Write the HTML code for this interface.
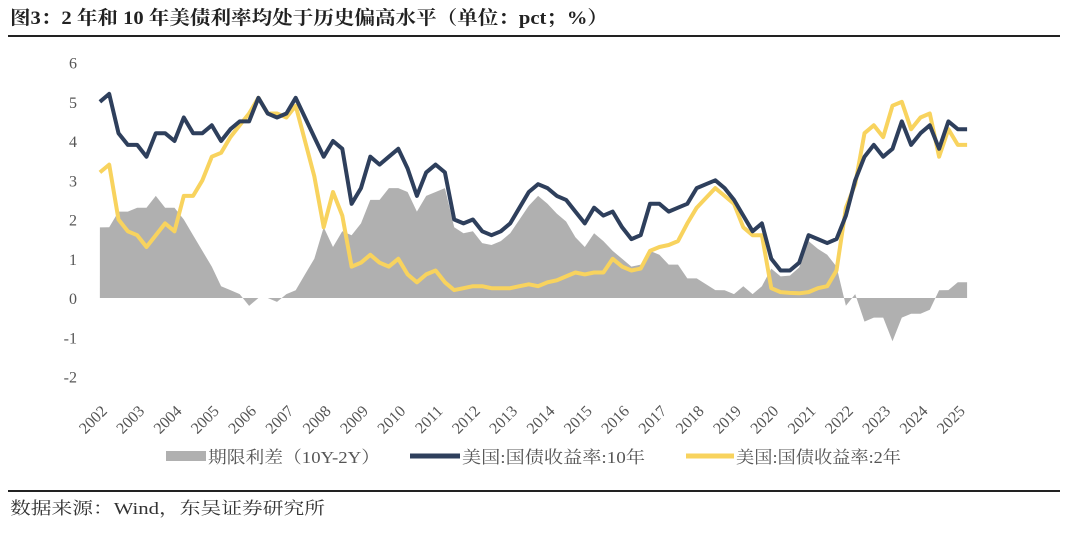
<!DOCTYPE html>
<html><head><meta charset="utf-8"><style>
body{margin:0;width:1080px;height:528px;background:#fff;overflow:hidden;font-family:"Liberation Serif","Noto Serif CJK SC",serif}
</style></head><body>
<svg width="1080" height="528" xmlns="http://www.w3.org/2000/svg">
<text x="10" y="24" font-size="19" font-weight="bold" fill="#222" textLength="598" lengthAdjust="spacingAndGlyphs">图3：2 年和 10 年美债利率均处于历史偏高水平（单位：pct；%）</text>
<line x1="8" y1="36" x2="1060" y2="36" stroke="#222" stroke-width="2"/>
<g id="plot"></g>
<g>
<rect x="166" y="451" width="40" height="10" fill="#b0b0b0"/>
<text x="208" y="463" font-size="17" fill="#555" textLength="172" lengthAdjust="spacingAndGlyphs">期限利差（10Y-2Y）</text>
<line x1="410" y1="456" x2="460" y2="456" stroke="#2e3f5c" stroke-width="5"/>
<text x="462" y="463" font-size="17" fill="#555" textLength="183" lengthAdjust="spacingAndGlyphs">美国:国债收益率:10年</text>
<line x1="686" y1="456" x2="734" y2="456" stroke="#f8d35e" stroke-width="5"/>
<text x="736" y="463" font-size="17" fill="#555" textLength="165" lengthAdjust="spacingAndGlyphs">美国:国债收益率:2年</text>
</g>
<line x1="8" y1="491" x2="1060" y2="491" stroke="#222" stroke-width="2"/>
<text x="10" y="514" font-size="17" fill="#333" textLength="315" lengthAdjust="spacingAndGlyphs">数据来源：Wind，东吴证券研究所</text>
</svg>
<script>
const yTicks=[-2,-1,0,1,2,3,4,5,6];
const years=[2002,2003,2004,2005,2006,2007,2008,2009,2010,2011,2012,2013,2014,2015,2016,2017,2018,2019,2020,2021,2022,2023,2024,2025];
const y10=[5.0,5.2,4.2,3.9, 3.9,3.6,4.2,4.2, 4.0,4.6,4.2,4.2, 4.4,4.0,4.3,4.5, 4.5,5.1,4.7,4.6, 4.7,5.1,4.6,4.1, 3.6,4.0,3.8,2.4, 2.8,3.6,3.4,3.6, 3.8,3.3,2.6,3.2, 3.4,3.2,2.0,1.9, 2.0,1.7,1.6,1.7, 1.9,2.3,2.7,2.9, 2.8,2.6,2.5,2.2, 1.9,2.3,2.1,2.2, 1.8,1.5,1.6,2.4, 2.4,2.2,2.3,2.4, 2.8,2.9,3.0,2.8, 2.5,2.1,1.7,1.9, 1.0,0.7,0.7,0.9, 1.6,1.5,1.4,1.5, 2.1,3.0,3.6,3.9, 3.6,3.8,4.5,3.9, 4.2,4.4,3.8,4.5, 4.3,4.3];
const y2=[3.2,3.4,2.0,1.7, 1.6,1.3,1.6,1.9, 1.7,2.6,2.6,3.0, 3.6,3.7,4.1,4.4, 4.7,5.1,4.7,4.7, 4.6,4.9,4.0,3.1, 1.8,2.7,2.1,0.8, 0.9,1.1,0.9,0.8, 1.0,0.6,0.4,0.6, 0.7,0.4,0.2,0.25, 0.3,0.3,0.25,0.25, 0.25,0.3,0.35,0.3, 0.4,0.45,0.55,0.65, 0.6,0.65,0.65,1.0, 0.8,0.7,0.75,1.2, 1.3,1.35,1.45,1.9, 2.3,2.55,2.8,2.6, 2.4,1.8,1.6,1.6, 0.25,0.15,0.13,0.12, 0.15,0.25,0.3,0.7, 2.3,2.9,4.2,4.4, 4.1,4.9,5.0,4.3, 4.6,4.7,3.6,4.3, 3.9,3.9];
const NS="http://www.w3.org/2000/svg";
const X=t=>98+(t-2002)*37.3;
const Y=v=>298-v*39.25;
const tOf=i=>2002+i*0.25+0.05;
const g=document.getElementById('plot');
function mk(tag,attrs){const e=document.createElementNS(NS,tag);for(const k in attrs)e.setAttribute(k,attrs[k]);g.appendChild(e);return e;}
yTicks.forEach(v=>{const t=mk('text',{x:77,y:Y(v)+6,'font-size':16,fill:'#555','text-anchor':'end'});t.textContent=v;

});
years.forEach(yr=>{const x=X(yr)+10,y=412;const t=mk('text',{x:x,y:y,'font-size':16,fill:'#555','text-anchor':'end',transform:`rotate(-45 ${x} ${y})`});t.textContent=yr;

});
let d='M'+X(tOf(0))+','+Y(0);
y10.forEach((v,i)=>{d+=' L'+X(tOf(i)).toFixed(1)+','+Y(v-y2[i]).toFixed(1);});
d+=' L'+X(tOf(y10.length-1))+','+Y(0)+' Z';
const a=mk('path',{d:d,fill:'#b0b0b0'});


function line(arr,color,name){const p=mk('path',{d:arr.map((v,i)=>(i?'L':'M')+X(tOf(i)).toFixed(1)+','+Y(v).toFixed(1)).join(' '),fill:'none',stroke:color,'stroke-width':4,'stroke-linejoin':'round'});

}
line(y2,'#f8d35e','line-2y-yield');
line(y10,'#2e3f5c','line-10y-yield');
</script>
</body></html>
